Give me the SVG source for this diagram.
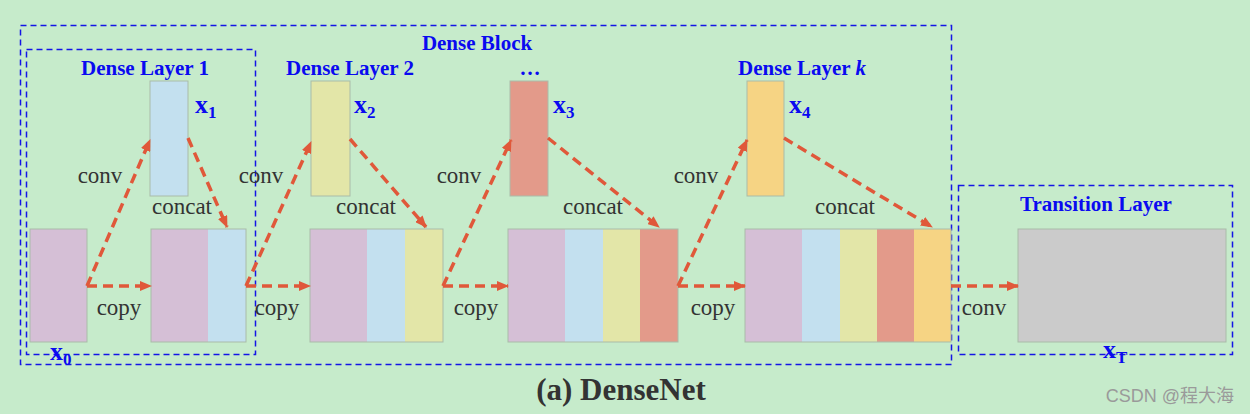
<svg xmlns="http://www.w3.org/2000/svg" width="1250" height="414" viewBox="0 0 1250 414">
<style>
.bg{fill:#c6ebcb}
.box{fill:none;stroke:#1414e6;stroke-width:1.5;stroke-dasharray:6 4}
.r{stroke:#a9bca9;stroke-width:1}
.p{fill:#d5bfd6}.b{fill:#c3e0ef}.y{fill:#e3e6a8}.rd{fill:#e39a8a}.o{fill:#f6d484}.g{fill:#cbcbcb}
.lbl{font-family:"Liberation Serif",serif;font-size:23px;fill:#333}
.ttl{font-family:"Liberation Serif",serif;font-size:21px;font-weight:bold;fill:#0a0af0}
.var{font-family:"Liberation Serif",serif;font-size:26px;font-weight:bold;fill:#0a0af0}
.sub{font-size:17px}
.arr{fill:none;stroke:#e0583a;stroke-width:3.5;stroke-dasharray:10 6;marker-end:url(#ah)}
</style>
<defs>
<marker id="ah" viewBox="0 0 12 10" refX="11" refY="5" markerWidth="12" markerHeight="10" markerUnits="userSpaceOnUse" orient="auto">
<path d="M0,0 L12,5 L0,10 Z" fill="#e0583a"/>
</marker>
</defs>
<rect class="bg" x="0" y="0" width="1250" height="414"/>

<g id="dense-block">
<rect class="box" x="20.5" y="25.5" width="931" height="339"/>
<text class="ttl" x="477" y="50" text-anchor="middle">Dense Block</text>
</g>
<g id="dense-layer-1-box">
<rect class="box" x="26.5" y="49.5" width="229" height="305"/>
<text class="ttl" x="145" y="75" text-anchor="middle">Dense Layer 1</text>
</g>
<g id="dense-layer-2-label"><text class="ttl" x="350" y="75" text-anchor="middle">Dense Layer 2</text></g>
<g id="dots-label"><text class="ttl" x="530" y="75" text-anchor="middle">…</text></g>
<g id="dense-layer-k-label"><text class="ttl" x="802" y="75" text-anchor="middle">Dense Layer <tspan font-style="italic">k</tspan></text></g>
<g id="transition-layer-box">
<rect class="box" x="958.5" y="185.5" width="274" height="169"/>
<text class="ttl" x="1096" y="211" text-anchor="middle">Transition Layer</text>
</g>

<g id="x0">
<rect class="r p" x="30" y="229" width="57" height="113"/>
<text class="var" x="50" y="360">x<tspan class="sub" dy="5">0</tspan></text>
</g>
<g id="x1">
<rect class="r b" x="150" y="81" width="38" height="115"/>
<text class="var" x="195" y="113">x<tspan class="sub" dy="5">1</tspan></text>
</g>
<g id="concat1">
<rect class="p" x="151" y="229" width="57" height="113"/>
<rect class="b" x="208" y="229" width="38" height="113"/>
<rect class="r" fill="none" x="151" y="229" width="95" height="113"/>
</g>
<g id="x2">
<rect class="r y" x="311" y="81" width="39" height="115"/>
<text class="var" x="354" y="113">x<tspan class="sub" dy="5">2</tspan></text>
</g>
<g id="concat2">
<rect class="p" x="310" y="229" width="57" height="113"/>
<rect class="b" x="367" y="229" width="38" height="113"/>
<rect class="y" x="405" y="229" width="38" height="113"/>
<rect class="r" fill="none" x="310" y="229" width="133" height="113"/>
</g>
<g id="x3">
<rect class="r rd" x="510" y="81" width="38" height="115"/>
<text class="var" x="553" y="113">x<tspan class="sub" dy="5">3</tspan></text>
</g>
<g id="concat3">
<rect class="p" x="508" y="229" width="57" height="113"/>
<rect class="b" x="565" y="229" width="38" height="113"/>
<rect class="y" x="603" y="229" width="37" height="113"/>
<rect class="rd" x="640" y="229" width="38" height="113"/>
<rect class="r" fill="none" x="508" y="229" width="170" height="113"/>
</g>
<g id="x4">
<rect class="r o" x="747" y="81" width="37" height="115"/>
<text class="var" x="789" y="113">x<tspan class="sub" dy="5">4</tspan></text>
</g>
<g id="concat4">
<rect class="p" x="745" y="229" width="57" height="113"/>
<rect class="b" x="802" y="229" width="38" height="113"/>
<rect class="y" x="840" y="229" width="37" height="113"/>
<rect class="rd" x="877" y="229" width="37" height="113"/>
<rect class="o" x="914" y="229" width="37" height="113"/>
<rect class="r" fill="none" x="745" y="229" width="206" height="113"/>
</g>
<g id="xT">
<rect class="r g" x="1018" y="229" width="208" height="113"/>
<text class="var" x="1103" y="358">x<tspan class="sub" dy="5">T</tspan></text>
</g>

<g id="connectors">
<path class="arr" d="M87,286 L150,140"/>
<path class="arr" d="M87,286 L151,286"/>
<path class="arr" d="M188,138 L227,227"/>
<path class="arr" d="M246,286 L311,142"/>
<path class="arr" d="M246,286 L310,286"/>
<path class="arr" d="M350,139 L426,227"/>
<path class="arr" d="M443,286 L511,140"/>
<path class="arr" d="M443,286 L508,286"/>
<path class="arr" d="M548,138 L659,227"/>
<path class="arr" d="M678,286 L747,140"/>
<path class="arr" d="M678,286 L745,286"/>
<path class="arr" d="M784,138 L932,227"/>
<path class="arr" d="M951,286 L1018,286"/>
<text class="lbl" x="100" y="183" text-anchor="middle">conv</text>
<text class="lbl" x="119" y="315" text-anchor="middle">copy</text>
<text class="lbl" x="182" y="214" text-anchor="middle">concat</text>
<text class="lbl" x="261" y="183" text-anchor="middle">conv</text>
<text class="lbl" x="277" y="315" text-anchor="middle">copy</text>
<text class="lbl" x="366" y="214" text-anchor="middle">concat</text>
<text class="lbl" x="459" y="183" text-anchor="middle">conv</text>
<text class="lbl" x="476" y="315" text-anchor="middle">copy</text>
<text class="lbl" x="593" y="214" text-anchor="middle">concat</text>
<text class="lbl" x="696" y="183" text-anchor="middle">conv</text>
<text class="lbl" x="713" y="315" text-anchor="middle">copy</text>
<text class="lbl" x="845" y="214" text-anchor="middle">concat</text>
<text class="lbl" x="984" y="315" text-anchor="middle">conv</text>
</g>

<g id="caption">
<text x="621" y="400" text-anchor="middle" font-family="'Liberation Serif',serif" font-size="31" font-weight="bold" fill="#333">(a) DenseNet</text>
</g>
<g id="watermark">
<text x="1234" y="402" text-anchor="end" font-family="'Liberation Sans','Noto Sans CJK SC',sans-serif" font-size="18" fill="#9a9a9a">CSDN @程大海</text>
</g>
</svg>
